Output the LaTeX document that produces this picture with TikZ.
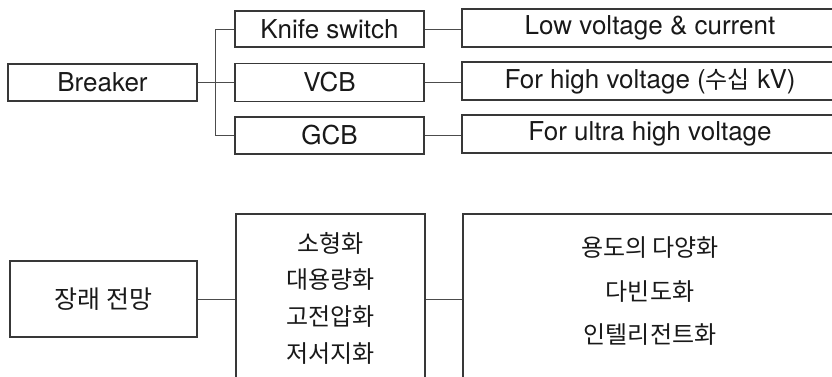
\documentclass[tikz,border=0pt]{standalone}
\usepackage{fontspec}
\setmainfont{TeX Gyre Heros}
\newfontfamily\kr{Noto Sans CJK KR}
\begin{document}
\begin{tikzpicture}[x=1pt,y=-1pt,
  box/.style={draw=black!78, line width=1.2pt, inner sep=0pt, text=black!90,
    font=\fontsize{26}{30}\selectfont},
  plainbox/.style={draw=black!78, line width=1.2pt, inner sep=0pt},
  krtext/.style={inner sep=0pt, align=center, text=black!90},
  link/.style={draw=black!70, line width=0.9pt}]
\useasboundingbox (0,0) rectangle (832,377);
\clip (0,0) rectangle (832,377);
% top section
\node[box, minimum width=189pt, minimum height=37pt] (breaker) at (102.5,82.5) {Breaker};
\node[box, minimum width=189pt, minimum height=36pt] (knife) at (329.5,29) {Knife switch};
\node[box, minimum width=189pt, minimum height=38pt] (vcb) at (329.5,82.5) {VCB};
\node[box, minimum width=189pt, minimum height=37pt] (gcb) at (329.5,135.5) {GCB};
\node[box, minimum width=376pt, minimum height=38pt] (low) at (650,28) {Low voltage \& current};
\node[box, minimum width=376pt, minimum height=38pt] (high) at (650,81) {For high voltage ({\kr\fontsize{24}{28}\selectfont 수십} kV)};
\node[box, minimum width=376pt, minimum height=38pt] (ultra) at (650,134) {For ultra high voltage};
\coordinate (jx) at (215,82.5);
\draw[link] (breaker.east) -- (vcb.west);
\draw[link] (knife.west) -- (knife.west -| jx) -- (gcb.west -| jx) -- (gcb.west);
\draw[link] (knife.east) -- (knife.east -| low.west);
\draw[link] (vcb.east) -- (vcb.east -| high.west);
\draw[link] (gcb.east) -- (gcb.east -| ultra.west);
% bottom section
\node[box, minimum width=187pt, minimum height=76pt] (future) at (103.5,299) {\kr\fontsize{25}{30}\selectfont 장래 전망};
\node[plainbox, minimum width=189pt, minimum height=168pt] (mid) at (330.5,298) {};
\node[krtext, font=\kr\fontsize{24}{36.7}\selectfont] (midtext) at (330.5,298) {소형화\\대용량화\\고전압화\\저서지화};
\node[plainbox, minimum width=375pt, minimum height=176pt] (rb) at (650.5,302) {};
\node[krtext, font=\kr\fontsize{24}{43.5}\selectfont] (rbtext) at (650,291.5) {용도의 다양화\\다빈도화\\인텔리전트화};
\draw[link] (future.east) -- (future.east -| mid.west);
\draw[link] (future.east -| mid.east) -- (future.east -| rb.west);
\end{tikzpicture}
\end{document}
